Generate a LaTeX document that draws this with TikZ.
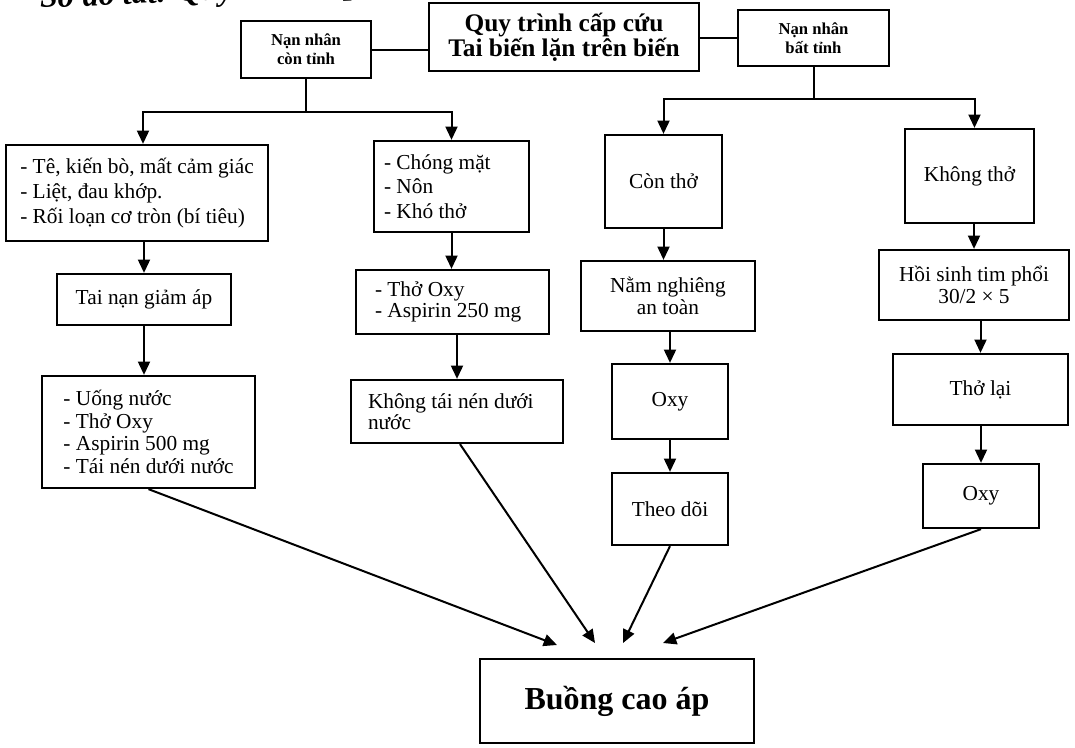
\documentclass[tikz,border=0pt]{standalone}
\usepackage{fontspec}
\setmainfont{Liberation Serif}
\usetikzlibrary{arrows.meta,calc}
\newdimen\px \px=0.75pt
\begin{document}
\begin{tikzpicture}[x=0.75pt,y=-0.75pt,
  box/.style={draw, line width=1.7pt, inner sep=0pt, align=center, font=\fontsize{16}{18.5}\selectfont},
  line/.style={line width=1.5pt},
  arr/.style={line width=1.5pt, -{Triangle[length=10pt,width=9pt]}},
  hdr/.style={font=\bfseries\fontsize{12.5}{14.25}\selectfont}]
\useasboundingbox[fill=white] (0,0) rectangle (1075,747);

% cropped heading at the top edge
\begin{scope}
\clip (0,0) rectangle (1075,747);
\node[anchor=base west, inner sep=0pt, rotate=2.5, font=\bfseries\itshape\fontsize{24}{24}\selectfont] (hd) at (40,8) {Sơ đồ tắt: Quy trình cấp cứu};
\end{scope}

% top row
\node[box, minimum width=270\px, minimum height=68\px, font=\bfseries\fontsize{19}{19}\selectfont] (title) at (564,37) {Quy trình cấp cứu\\Tai biến lặn trên biến};
\node[box, hdr, minimum width=130\px, minimum height=57\px] (ct) at (306,49.5) {Nạn nhân\\còn tỉnh};
\node[box, hdr, minimum width=151\px, minimum height=56\px] (bt) at (813.5,38) {Nạn nhân\\bất tỉnh};

% column A
\node[box, minimum width=262\px, minimum height=96\px, align=left, font=\fontsize{16}{18.5}\selectfont] (a1) at (137,193) {- Tê, kiến bò, mất cảm giác\\- Liệt, đau khớp.\\- Rối loạn cơ tròn (bí tiêu)};
\node[box, minimum width=174\px, minimum height=51\px] (a2) at (144,299.5) {Tai nạn giảm áp};
\node[box, minimum width=213\px, minimum height=112\px, align=left, font=\fontsize{16}{17}\selectfont] (a3) at (148.5,432) {- Uống nước\\- Thở Oxy\\- Aspirin 500 mg\\- Tái nén dưới nước};

% column B
\node[box, minimum width=155\px, minimum height=91\px, text width=135\px, align=flush left] (b1) at (451.5,186.5) {- Chóng mặt\\- Nôn\\- Khó thở};
\node[box, minimum width=193\px, minimum height=64\px, text width=155\px, align=flush left, font=\fontsize{16}{16}\selectfont] (b2) at (452.5,302) {- Thở Oxy\\- Aspirin 250 mg};
\node[box, minimum width=212\px, minimum height=63\px, text width=178\px, align=flush left, font=\fontsize{16}{16}\selectfont] (b3) at (457,411.5) {Không tái nén dưới\\nước\\[4pt]};

% column C
\node[box, minimum width=117\px, minimum height=93\px] (c1) at (663.5,181.5) {Còn thở};
\node[box, minimum width=174\px, minimum height=70\px, font=\fontsize{16}{17}\selectfont] (c2) at (668,296) {Nằm nghiêng\\an toàn};
\node[box, minimum width=116\px, minimum height=75\px] (c3) at (670,401.5) {Oxy};
\node[box, minimum width=116\px, minimum height=72\px] (c4) at (670,509) {Theo dõi};

% column D
\node[box, minimum width=129\px, minimum height=94\px] (d1) at (969.5,176) {Không thở};
\node[box, minimum width=190\px, minimum height=70\px, font=\fontsize{16}{16.3}\selectfont] (d2) at (974,285) {Hồi sinh tim phổi\\30/2 × 5};
\node[box, minimum width=175\px, minimum height=71\px] (d3) at (980.5,389.5) {Thở lại};
\node[box, minimum width=116\px, minimum height=64\px] (d4) at (981,496) {Oxy};

% bottom
\node[box, minimum width=274\px, minimum height=84\px, font=\bfseries\fontsize{24}{24}\selectfont] (buong) at (617,701) {Buồng cao áp};

% top connectors
\draw[line] (ct.east) -- (ct.east -| title.west);
\draw[line] (title.east |- bt.west) -- (bt.west);

\coordinate (ls) at ($(ct.south)+(0,33)$);
\draw[line] (ct.south) -- (ls);
\draw[arr] (ls) -| ([xshift=6\px]a1.north);
\draw[arr] (ls) -| (b1.north);

\coordinate (rs) at ($(bt.south)+(0,32)$);
\draw[line] (bt.south) -- (rs);
\draw[arr] (rs) -| (c1.north);
\draw[arr] (rs) -| ([xshift=5\px]d1.north);

% chains
\draw[arr] (a1.south -| a2.north) -- (a2.north);
\draw[arr] (a2.south) -- (a2.south |- a3.north);
\draw[arr] (b1.south) -- (b1.south |- b2.north);
\draw[arr] (b3.north |- b2.south) -- (b3.north);
\draw[arr] (c1.south) -- (c1.south |- c2.north);
\draw[arr] (c3.north |- c2.south) -- (c3.north);
\draw[arr] (c3.south) -- (c4.north);
\draw[arr] (d2.north |- d1.south) -- (d2.north);
\draw[arr] (d3.north |- d2.south) -- (d3.north);
\draw[arr] (d4.north |- d3.south) -- (d4.north);

% converging arrows
\coordinate (t1) at (557,645);
\coordinate (t2) at (595,643);
\coordinate (t3) at (623,643);
\coordinate (t4) at (663,643);
\draw[arr] (a3.south) -- (t1);
\draw[arr] ([xshift=3\px]b3.south) -- (t2);
\draw[arr] (c4.south) -- (t3);
\draw[arr] (d4.south) -- (t4);
\end{tikzpicture}
\end{document}
